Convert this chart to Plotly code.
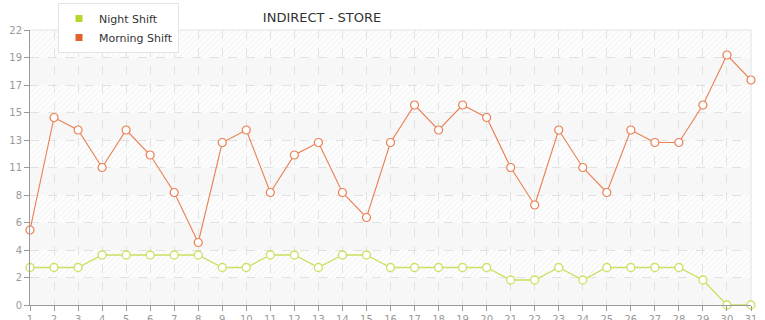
import base64
import math
import plotly.graph_objects as go

days = list(range(1, 32))
night_shift = [3, 3, 3, 4, 4, 4, 4, 4, 3, 3, 4, 4, 3, 4, 4, 3, 3, 3, 3, 3, 2, 2, 3, 2, 3, 3, 3, 3, 2, 0, 0]
morning_shift = [6, 15, 14, 11, 14, 12, 9, 5, 13, 14, 9, 12, 13, 9, 7, 13, 16, 14, 16, 15, 11, 8, 14, 11, 9, 14, 13, 13, 16, 20, 18]
y_max = 22
y_tickvals = [round(y_max * i / 10, 2) for i in range(11)]
y_ticktext = [str(int(math.floor(v + 1e-9))) for v in y_tickvals]

night_line = "#c9e15f"
night_key = "#b5d82b"
morning_line = "#ea7f52"
morning_key = "#e0632b"

# plot area geometry (pixels)
W, H = 765, 320
ml, mr, mt, mb = 30, 14, 30, 15
pw, ph = W - ml - mr, H - mt - mb

# background: alternating hatched / plain bands
band_h = ph / 10
rects = []
for i in range(10):
    y0 = i * band_h
    fill = "url(#h)" if i % 2 == 0 else "#f7f7f7"
    rects.append(f'<rect x="0" y="{y0:.2f}" width="{pw}" height="{band_h:.2f}" fill="{fill}"/>')
svg = (
    f'<svg xmlns="http://www.w3.org/2000/svg" width="{pw}" height="{ph}" viewBox="0 0 {pw} {ph}" preserveAspectRatio="none">'
    '<defs><pattern id="h" width="4" height="4" patternUnits="userSpaceOnUse" patternTransform="rotate(45)">'
    '<rect width="4" height="4" fill="#fdfdfd"/>'
    '<line x1="0" y1="0" x2="0" y2="4" stroke="#eeeeee" stroke-width="1.2"/></pattern></defs>'
    + "".join(rects) + "</svg>"
)
svg_uri = "data:image/svg+xml;base64," + base64.b64encode(svg.encode()).decode()

fig = go.Figure()

fig.add_trace(go.Scatter(
    x=days, y=night_shift, mode="lines+markers", name="Night Shift",
    line=dict(color=night_line, width=1.3),
    marker=dict(symbol="circle", size=8, color="white", line=dict(color=night_line, width=1.3)),
    cliponaxis=False, showlegend=False,
))
fig.add_trace(go.Scatter(
    x=days, y=morning_shift, mode="lines+markers", name="Morning Shift",
    line=dict(color=morning_line, width=1.1),
    marker=dict(symbol="circle", size=8, color="white", line=dict(color=morning_line, width=1.2)),
    cliponaxis=False, showlegend=False,
))
# legend keys
fig.add_trace(go.Scatter(x=[None], y=[None], mode="markers", name="Night Shift",
                         marker=dict(symbol="square", size=7, color=night_key)))
fig.add_trace(go.Scatter(x=[None], y=[None], mode="markers", name="Morning Shift",
                         marker=dict(symbol="square", size=7, color=morning_key)))

fig.update_layout(
    width=W, height=H,
    margin=dict(l=ml, r=mr, t=mt, b=mb, autoexpand=False),
    paper_bgcolor="white", plot_bgcolor="white",
    font=dict(family="DejaVu Sans, Verdana, sans-serif", size=10, color="#999999"),
    title=dict(text="INDIRECT - STORE", x=322 / W, xanchor="center", y=1 - 17 / H, yanchor="middle",
               font=dict(size=13, color="#333333")),
    legend=dict(x=(58 - ml) / pw, xanchor="left", y=(H - mb - 3) / ph, yanchor="top",
                bgcolor="white", bordercolor="#e4e4e4", borderwidth=1,
                font=dict(size=11, color="#333333"), itemwidth=30, tracegroupgap=0),
    images=[dict(source=svg_uri, xref="paper", yref="paper", x=0, y=1, sizex=1, sizey=1,
                 sizing="stretch", xanchor="left", yanchor="top", layer="below")],
    shapes=[
        dict(type="line", xref="paper", yref="paper", x0=0, x1=1, y0=1, y1=1,
             line=dict(color="#e2e2e2", width=1), layer="below"),
        dict(type="line", xref="paper", yref="paper", x0=1, x1=1, y0=0, y1=1,
             line=dict(color="#e2e2e2", width=1), layer="below"),
    ],
    xaxis=dict(range=[1, 31], tickmode="array", tickvals=days, ticktext=[str(d) for d in days],
               showgrid=True, gridcolor="#e2e2e2", griddash="dash", gridwidth=1,
               showline=True, linecolor="#999999", linewidth=1, automargin=False,
               ticks="outside", ticklen=5, tickcolor="#999999", zeroline=False,
               tickfont=dict(size=10, color="#999999")),
    yaxis=dict(range=[0, y_max], tickmode="array", tickvals=y_tickvals, ticktext=y_ticktext,
               showgrid=True, gridcolor="#e2e2e2", griddash="dash", gridwidth=1,
               showline=True, linecolor="#999999", linewidth=1, automargin=False,
               ticks="outside", ticklen=5, tickcolor="#999999", zeroline=False,
               tickfont=dict(size=10, color="#999999")),
)

fig.write_html("out.html")
